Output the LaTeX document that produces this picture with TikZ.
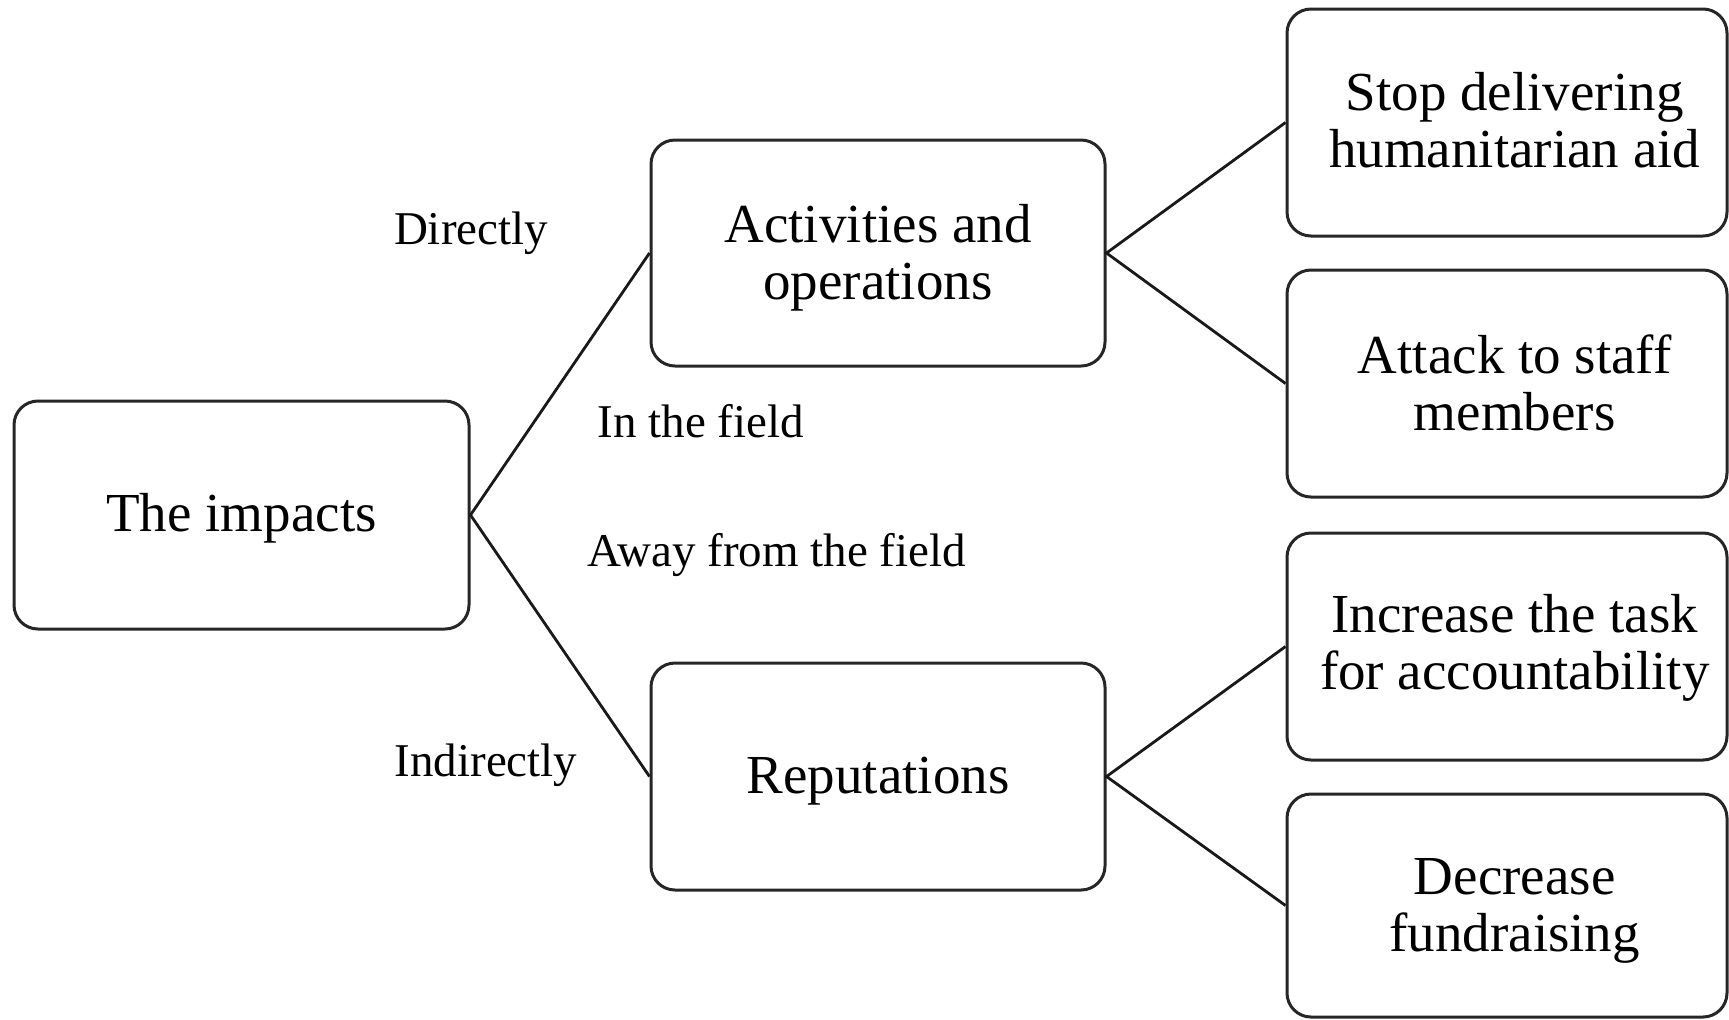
\documentclass[tikz,border=0pt]{standalone}
\usepackage{fontspec}
\setmainfont{Liberation Serif}
\begin{document}
\begin{tikzpicture}[x=0.5pt,y=-0.5pt,
  box/.style={draw=black!85,line width=1.5pt,rounded corners=12pt,inner sep=0pt},
  boxtext/.style={align=center,font=\fontsize{27.5pt}{28.5pt}\selectfont,inner sep=0pt},
  lbl/.style={font=\fontsize{23.5pt}{25pt}\selectfont,inner sep=0pt},
  conn/.style={draw=black!90,line width=1.4pt}]
\useasboundingbox (0,0) rectangle (1729,1019);
\node[box,minimum width=227.5pt,minimum height=114pt] (imp) at (241.5,515) {};
\node[box,minimum width=227pt,minimum height=113pt] (act) at (878,253) {};
\node[box,minimum width=227pt,minimum height=113.5pt] (rep) at (878,776.5) {};
\node[box,minimum width=220pt,minimum height=113.5pt] (r1) at (1507,122.5) {};
\node[box,minimum width=220pt,minimum height=113.5pt] (r2) at (1507,383.5) {};
\node[box,minimum width=220pt,minimum height=113.5pt] (r3) at (1507,646.5) {};
\node[box,minimum width=220pt,minimum height=111.5pt] (r4) at (1507,905.5) {};
\node[boxtext] (imp-t) at ([shift={(0,3.3)}]imp.center) {The impacts};
\node[boxtext] (act-t) at ([shift={(0,4.4)}]act.center) {Activities and\\operations};
\node[boxtext] (rep-t) at ([shift={(0,4.4)}]rep.center) {Reputations};
\node[boxtext] (r1-t) at ([shift={(7.7,-2.2)}]r1.center) {Stop delivering\\humanitarian aid};
\node[boxtext] (r2-t) at ([shift={(7.7,-1)}]r2.center) {Attack to staff\\members};
\node[boxtext] (r3-t) at ([shift={(7.7,1)}]r3.center) {Increase the task\\for accountability};
\node[boxtext] (r4-t) at ([shift={(7.7,5.5)}]r4.center) {Decrease\\fundraising};
\node[lbl] (l1) at (471,233.5) {Directly};
\node[lbl] (l2) at (701,421) {In the field};
\node[lbl] (l3) at (777,555.5) {Away from the field};
\node[lbl] (l4) at (486,765.5) {Indirectly};
\draw[conn] (act.west) -- (imp.east) -- (rep.west);
\draw[conn] (r1.west) -- (act.east) -- (r2.west);
\draw[conn] (r3.west) -- (rep.east) -- (r4.west);
\end{tikzpicture}
\end{document}
